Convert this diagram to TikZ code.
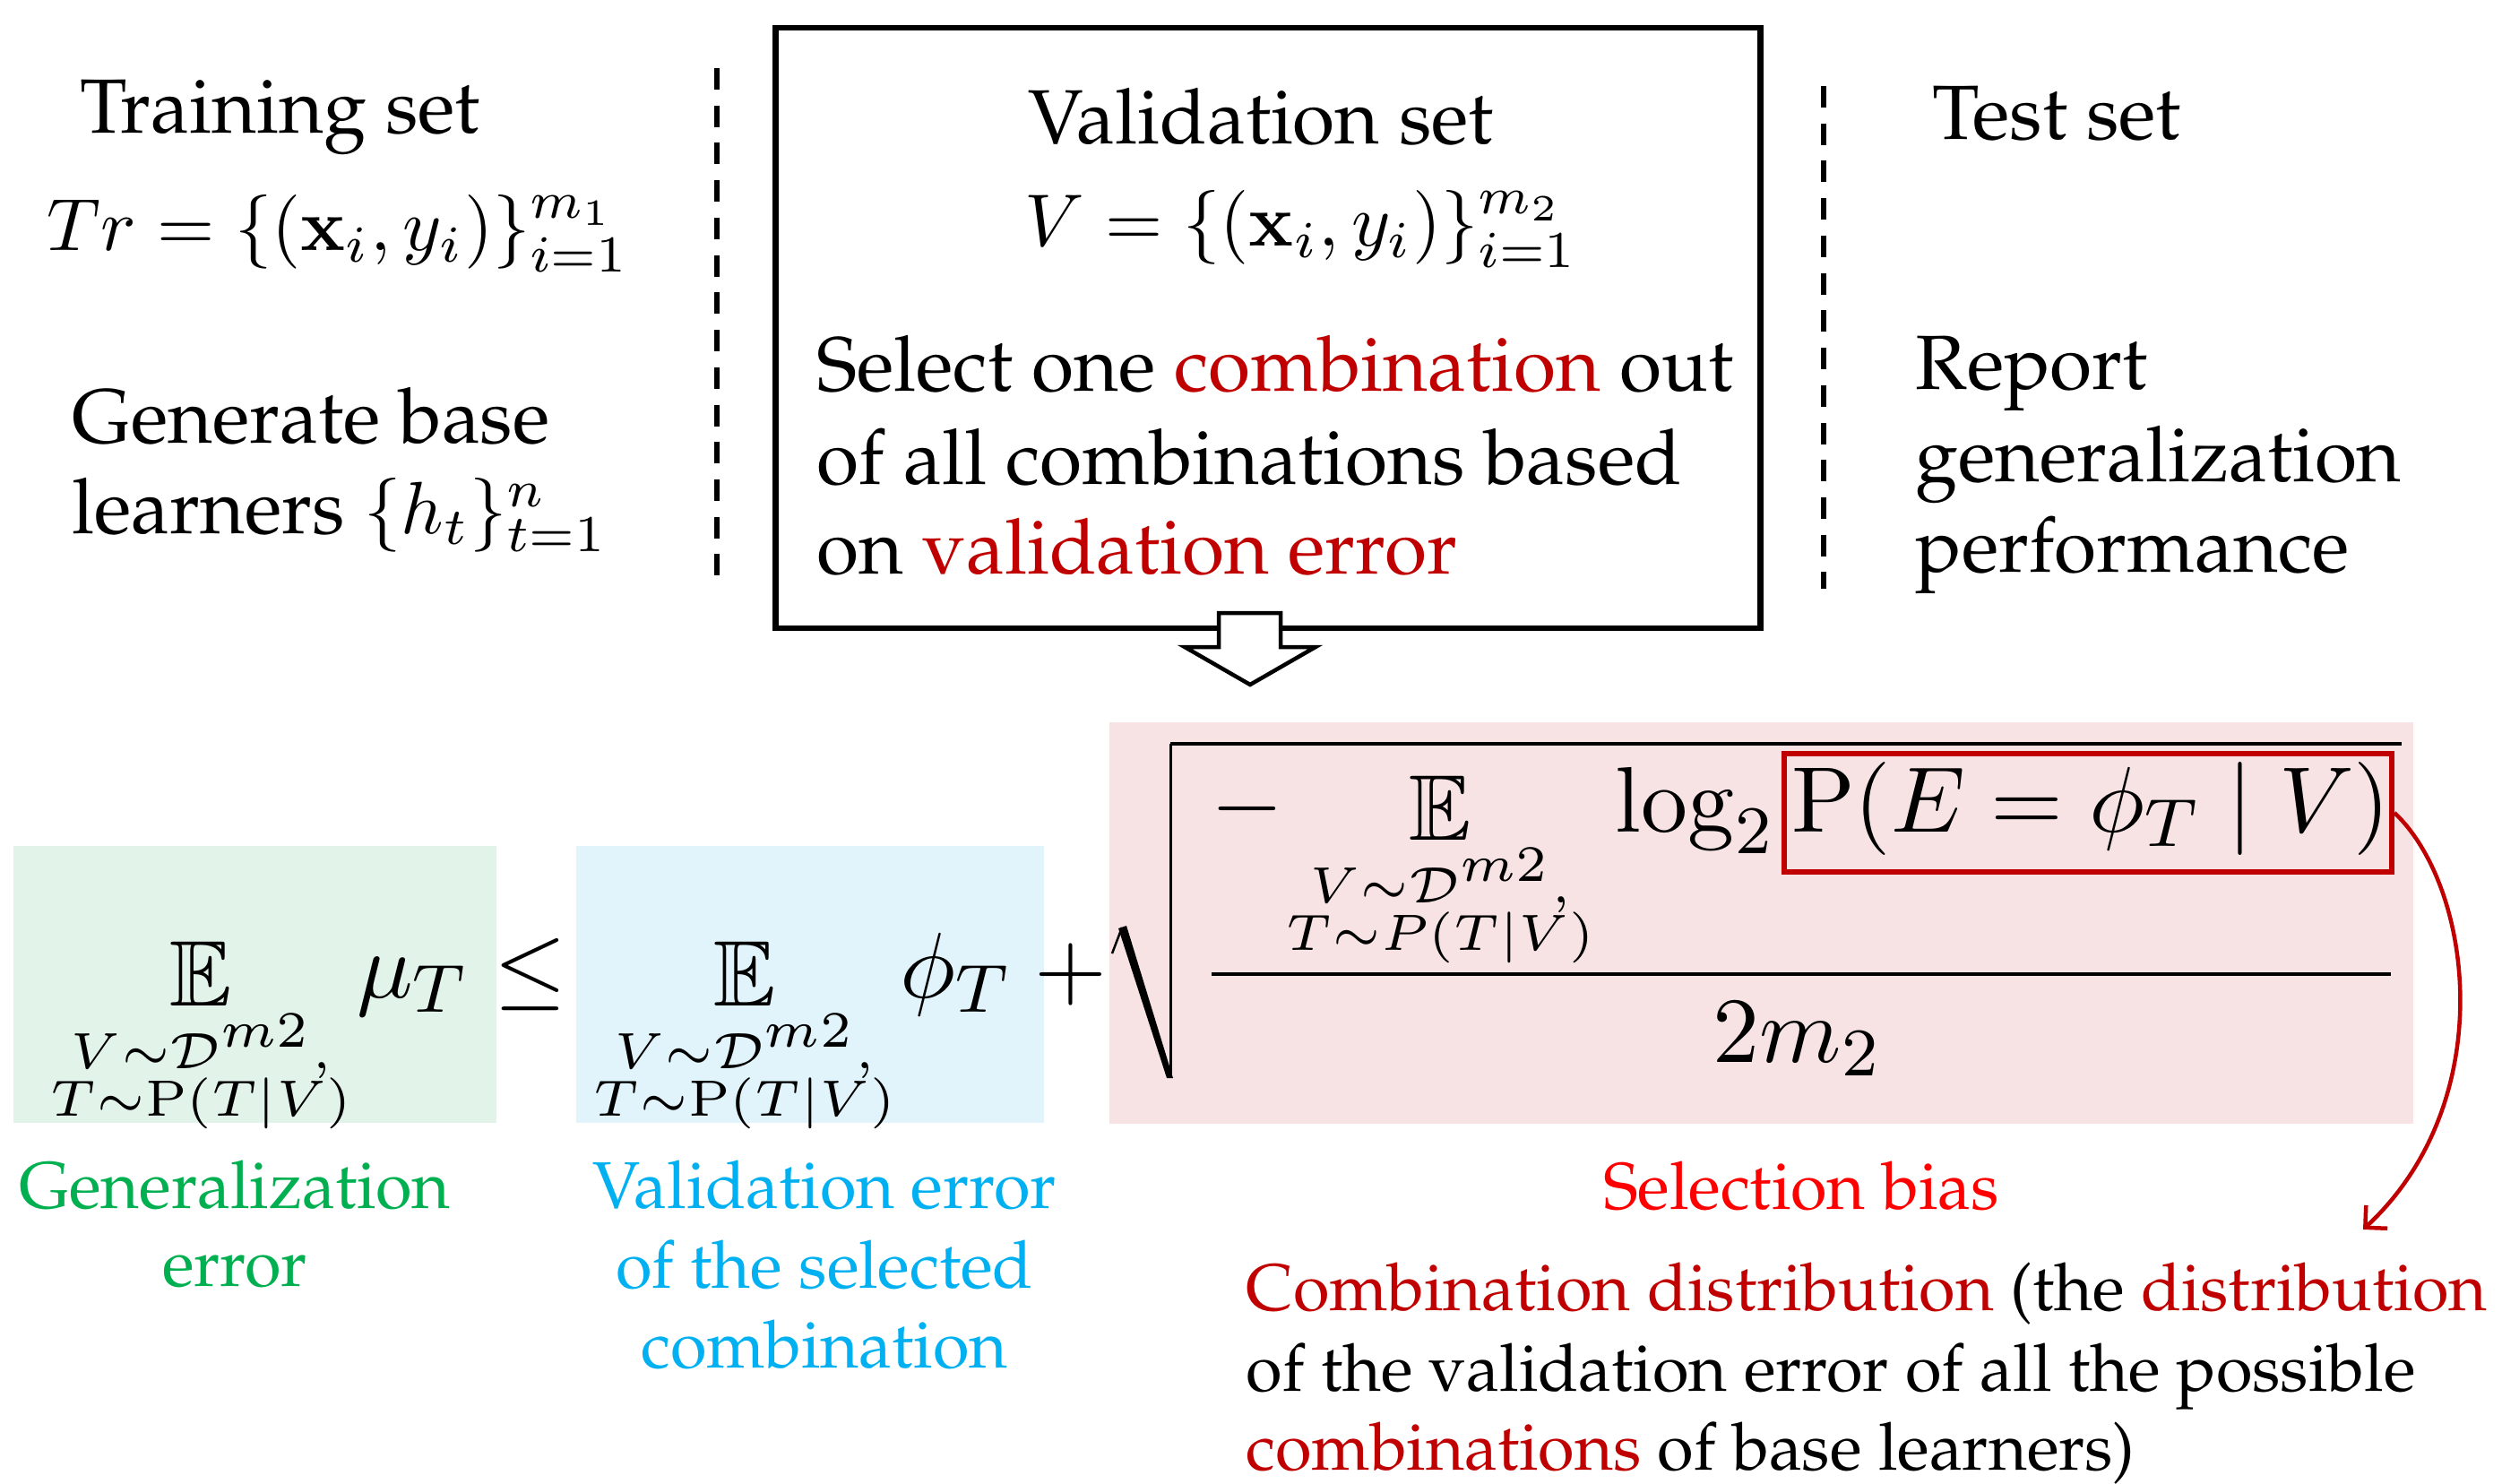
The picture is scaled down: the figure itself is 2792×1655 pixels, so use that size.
\documentclass[tikz,border=0pt]{standalone}
\usepackage[T1]{fontenc}
\renewcommand{\rmdefault}{ppl}
\usepackage{amsmath,amssymb}
\usepackage{graphicx}
\usetikzlibrary{arrows.meta}

\definecolor{dred}{HTML}{C00000}
\definecolor{lred}{HTML}{FF0000}
\definecolor{pgreen}{HTML}{00B050}
\definecolor{pcyan}{HTML}{00B0F0}
\definecolor{gfill}{HTML}{E2F3EA}
\definecolor{bfill}{HTML}{E1F4FB}
\definecolor{rfill}{HTML}{F7E3E4}

% math typeset at text size and magnified
\newcommand{\mth}[2][2.35]{\scalebox{#1}{\normalsize$#2$}}
% pieces of the bound are set at 11pt and magnified
\newcommand{\bmth}[1]{\scalebox{2.70}{\fontsize{10.95}{13.6}\selectfont$\displaystyle #1$}}
% expectation over V and T, with a tight two-line range below
\newcommand{\EVT}[1]{\mathop{\mathbb{E}}\limits_{\vbox{\vskip-0.84pt\baselineskip=5.6pt\lineskip=0pt\lineskiplimit=-20pt
  \halign{\hfil$\scriptscriptstyle##$\hfil\cr V\sim\mathcal{D}^{m2},\cr T\sim #1(T|V)\cr}}}}

\begin{document}
\begin{tikzpicture}[x=0.01cm,y=-0.01cm,
  tx/.style={anchor=base west, inner sep=0pt, font=\fontsize{24.4}{29}\selectfont},
  lb/.style={anchor=base, inner sep=0pt, font=\fontsize{21}{25}\selectfont},
  fm/.style={anchor=base, inner sep=0pt},
  sepline/.style={line width=0.06cm, dash pattern=on 0.24cm off 0.177cm},
  rule/.style={line width=0.042cm},
  curv/.style={draw=dred, line width=0.045cm, -{Straight Barb[length=5pt,width=10pt]}}]
\useasboundingbox (0,0) rectangle (2792,1655);

% ---- training set
\node[tx] (trT) at (89,149) {Training set};
\node[tx] (trF) at (52,280) {\mth{Tr=\{(\mathbf{x}_i,y_i)\}_{i=1}^{m_1}}};
\node[tx] (gen1) at (80,494) {Generate base};
\node[tx] (gen2) at (80,595) {learners \mth{\{h_t\}_{t=1}^{n}}};

% ---- separators
\coordinate (sLa) at (800,76);  \coordinate (sLb) at (800,645);
\coordinate (sRa) at (2035,96); \coordinate (sRb) at (2035,657);
\draw[sepline] (sLa) -- (sLb);
\draw[sepline] (sRa) -- (sRb);

% ---- validation set box
\node[draw, line width=0.065cm, minimum width=10.98cm, minimum height=6.70cm, inner sep=0pt] (vbox) at (1415,366) {};
\node[tx] (vT) at (1147,161) {Validation set};
\node[tx] (vF) at (1143,275) {\mth{V=\{(\mathbf{x}_i,y_i)\}_{i=1}^{m_2}}};
\node[tx] (sel1) at (911,436) {Select one \textcolor{dred}{combination} out};
\node[tx] (sel2) at (911,540) {of all combinations based};
\node[tx] (sel3) at (911,640) {on \textcolor{dred}{validation error}};

% ---- test set
\node[tx] (teT) at (2156,156) {Test set};
\node[tx] (rep1) at (2137,434) {Report};
\node[tx] (rep2) at (2137,537) {generalization};
\node[tx] (rep3) at (2137,638) {performance};

% ---- hollow block arrow under the box
\draw[line width=0.045cm, fill=white] (1360,684) -- (1429,684) -- (1429,722) -- (1468,722)
  -- (1395,764) -- (1322,722) -- (1360,722) -- cycle;

% ---- shaded panels behind the bound
\fill[gfill] (15,944) rectangle (554,1253);
\fill[bfill] (643,944) rectangle (1165,1253);
\fill[rfill] (1238,806) rectangle (2693,1254);

% ---- the bound: left-hand side, validation term, plus sign
\node[fm] (bG) at (290,1113) {\bmth{\EVT{\mathrm{P}}\mkern-2mu\mu_T}};
\node[fm] (bLE) at (592,1113) {\bmth{\le}};
\node[fm] (bB) at (896,1113) {\bmth{\EVT{\mathrm{P}}\mkern-2mu\phi_T}};
\node[fm] (bPL) at (1195,1113) {\bmth{+}};

% ---- the square-root term
\coordinate (rTick) at (1241,1064);
\coordinate (rTop) at (1252,1035);
\coordinate (rBot) at (1306,1203);
\coordinate (rCorner) at (1306,830);
\coordinate (rEnd) at (2680,830);
\fill (1248,1036) -- (1257,1033) -- (1309,1203) -- (1302,1203) -- cycle;
\draw[line width=0.025cm] (rTick) -- (rTop);
\draw[line width=0.03cm] (rBot) -- (rCorner);
\draw[line width=0.042cm] (rCorner) -- (rEnd);
\node[fm] (nMinus) at (1392,928) {\bmth{-}};
\node[fm] (nE) at (1607,928) {\bmth{\EVT{P}}};
\node[fm, anchor=base east] (nLog) at (2668,928) {\bmth{\log_2\mathrm{P}(E=\phi_T\mid V)}};
\coordinate (barL) at (1352,1087);
\coordinate (barR) at (2668,1087);
\draw[rule] (barL) -- (barR);
\node[fm] (nDen) at (2006,1185) {\bmth{2m_2}};

% ---- highlighted term
\node[draw=dred, line width=0.055cm, minimum width=6.78cm, minimum height=1.32cm, inner sep=0pt] (pbox) at (2330,907) {};

% ---- labels
\node[lb, text=pgreen] (g1) at (262,1348) {Generalization};
\node[lb, text=pgreen] (g2) at (262,1435) {error};
\node[lb, text=pcyan] (b1) at (920,1348) {Validation error};
\node[lb, text=pcyan] (b2) at (920,1437) {of the selected};
\node[lb, text=pcyan] (b3) at (920,1526) {combination};
\node[lb, text=lred] (r1) at (2010,1349) {Selection bias};
\node[lb, anchor=base west] (c1) at (1390,1462) {\textcolor{dred}{Combination distribution} (the \textcolor{dred}{distribution}};
\node[lb, anchor=base west] (c2) at (1390,1552) {of the validation error of all the possible};
\node[lb, anchor=base west] (c3) at (1390,1640) {\textcolor{dred}{combinations} of base learners)};

% ---- pointer from the highlighted term to its explanation
\coordinate (tipC) at (2637,1372);
\draw[curv] (pbox.east) .. controls (2760,990) and (2790,1230) .. (tipC);
\end{tikzpicture}
\end{document}
